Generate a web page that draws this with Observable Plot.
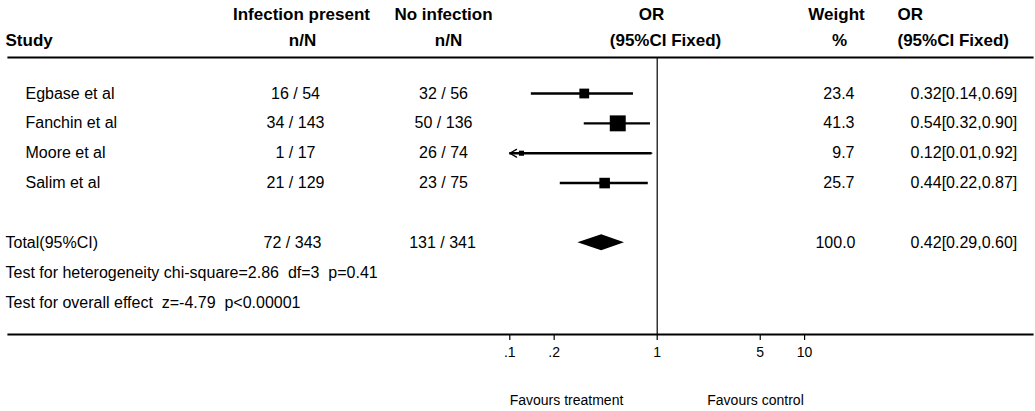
<!DOCTYPE html>
<html>
<head>
<meta charset="utf-8">
<script src="https://cdn.jsdelivr.net/npm/d3@7"></script>
<script src="https://cdn.jsdelivr.net/npm/@observablehq/plot@0.6"></script>
<style>
  html, body { margin: 0; padding: 0; background: #fff; }
  svg text { white-space: pre; }
</style>
</head>
<body>
<div id="chart"></div>
<script>
// ---- data ----
const studies = ["Egbase et al", "Fanchin et al", "Moore et al", "Salim et al"];
const infectionPresent = ["16 / 54", "34 / 143", "1 / 17", "21 / 129"];
const noInfection = ["32 / 56", "50 / 136", "26 / 74", "23 / 75"];
const orEstimate = [0.32, 0.54, 0.12, 0.44];
const orLower = [0.14, 0.32, 0.01, 0.22];
const orUpper = [0.69, 0.90, 0.92, 0.87];
const weightPct = [23.4, 41.3, 9.7, 25.7];
const orLabels = ["0.32[0.14,0.69]", "0.54[0.32,0.90]", "0.12[0.01,0.92]", "0.44[0.22,0.87]"];

const totalLabel = "Total(95%CI)";
const totalInfection = "72 / 343";
const totalNoInfection = "131 / 341";
const totalWeight = "100.0";
const totalEstimate = 0.42, totalLower = 0.29, totalUpper = 0.60;
const totalORLabel = "0.42[0.29,0.60]";
const heterogeneityText = "Test for heterogeneity chi-square=2.86  df=3  p=0.41";
const overallText = "Test for overall effect  z=-4.79  p<0.00001";

const headerRow1 = ["Infection present", "No infection", "OR", "Weight", "OR"];
const headerRow2 = ["Study", "n/N", "n/N", "(95%CI Fixed)", "%", "(95%CI Fixed)"];
const tickValues = [0.1, 0.2, 1, 5, 10];
const tickLabels = [".1", ".2", "1", "5", "10"];
const favourLabels = ["Favours treatment", "Favours control"];

// ---- derived tables ----
const rows = studies.map((s, i) => ({
  row: i, study: s, inf: infectionPresent[i], noinf: noInfection[i],
  est: orEstimate[i], lo: orLower[i], hi: orUpper[i], w: weightPct[i], lab: orLabels[i]
}));
const totalRow = 5, hetRow = 6, overallRow = 7;
const diamond = [
  {y: totalRow - 0.27, x1: totalEstimate, x2: totalEstimate},
  {y: totalRow, x1: totalLower, x2: totalUpper},
  {y: totalRow + 0.27, x1: totalEstimate, x2: totalEstimate}
];
const xMin = tickValues[0], xMax = tickValues[tickValues.length - 1];
const truncated = rows.filter(d => d.lo < xMin);
const ticks = tickValues.map((v, i) => ({v, label: tickLabels[i]}));

const font = "'Liberation Sans', Arial, sans-serif";
const body = {fontSize: 16, lineAnchor: "middle"};
const head = {fontSize: 17, fontWeight: "bold", lineAnchor: "middle"};

const T = (data, opts) => Plot.text(data, {text: d => d, ...opts});

const chart = Plot.plot({
  width: 1035,
  height: 411,
  marginTop: 57,
  marginBottom: 77,
  marginLeft: 0,
  marginRight: 0,
  style: {fontFamily: font, color: "#000", background: "#fff"},
  x: {type: "log", domain: [xMin, xMax], range: [509.3, 804.1], clamp: true, axis: null},
  y: {type: "linear", domain: [0, 7], range: [93, 302], axis: null},
  r: {type: "linear", domain: [-5, 41.3], range: [0, 9]},
  marks: [
    // header & axis rules
    Plot.frame({anchor: "top", strokeWidth: 2.2, insetLeft: 8, insetRight: 3}),
    Plot.frame({anchor: "bottom", strokeWidth: 2.2, insetLeft: 8, insetRight: 3}),
    Plot.ruleX([1], {strokeWidth: 1.2}),
    // axis ticks + labels
    Plot.axisX(tickValues, {
      anchor: "bottom", tickSize: 6, strokeWidth: 1.2,
      tickFormat: () => "", label: null
    }),
    Plot.text(ticks, {x: "v", text: "label", frameAnchor: "bottom", dy: 18, lineAnchor: "middle", fontSize: 14}),
    // CIs
    Plot.ruleY(rows, {y: "row", x1: "lo", x2: "hi", strokeWidth: 2.4}),
    Plot.arrow(truncated, {x1: "hi", x2: "lo", y1: "row", y2: "row", headLength: 9, strokeWidth: 1.3}),
    Plot.dot(rows, {x: "est", y: "row", r: "w", symbol: "square", fill: "black", stroke: "none"}),
    Plot.areaX(diamond, {y: "y", x1: "x1", x2: "x2", fill: "black"}),
    // headers
    T([headerRow1[0]], {frameAnchor: "top-left", dx: 301, dy: -43, textAnchor: "middle", ...head}),
    T([headerRow1[1]], {frameAnchor: "top-left", dx: 443, dy: -43, textAnchor: "middle", ...head}),
    T([headerRow1[2]], {frameAnchor: "top-left", dx: 651, dy: -43, textAnchor: "middle", ...head}),
    T([headerRow1[3]], {frameAnchor: "top-left", dx: 836, dy: -43, textAnchor: "middle", ...head}),
    T([headerRow1[4]], {frameAnchor: "top-left", dx: 897, dy: -43, textAnchor: "start", ...head}),
    T([headerRow2[0]], {frameAnchor: "top-left", dx: 5, dy: -17, textAnchor: "start", ...head}),
    T([headerRow2[1]], {frameAnchor: "top-left", dx: 302, dy: -17, textAnchor: "middle", ...head}),
    T([headerRow2[2]], {frameAnchor: "top-left", dx: 448, dy: -17, textAnchor: "middle", ...head}),
    T([headerRow2[3]], {frameAnchor: "top-left", dx: 665, dy: -17, textAnchor: "middle", ...head}),
    T([headerRow2[4]], {frameAnchor: "top-left", dx: 839, dy: -17, textAnchor: "middle", ...head}),
    T([headerRow2[5]], {frameAnchor: "top-left", dx: 897, dy: -17, textAnchor: "start", ...head}),
    // study rows
    Plot.text(rows, {y: "row", text: "study", frameAnchor: "left", dx: 25, textAnchor: "start", ...body}),
    Plot.text(rows, {y: "row", text: "inf", frameAnchor: "left", dx: 295, textAnchor: "middle", ...body}),
    Plot.text(rows, {y: "row", text: "noinf", frameAnchor: "left", dx: 443, textAnchor: "middle", ...body}),
    Plot.text(rows, {y: "row", text: d => d.w.toFixed(1), frameAnchor: "left", dx: 854, textAnchor: "end", ...body}),
    Plot.text(rows, {y: "row", text: "lab", frameAnchor: "left", dx: 910, textAnchor: "start", ...body}),
    // totals
    Plot.text([totalLabel], {y: totalRow, text: d => d, frameAnchor: "left", dx: 5, textAnchor: "start", ...body}),
    Plot.text([totalInfection], {y: totalRow, text: d => d, frameAnchor: "left", dx: 292, textAnchor: "middle", ...body}),
    Plot.text([totalNoInfection], {y: totalRow, text: d => d, frameAnchor: "left", dx: 442, textAnchor: "middle", ...body}),
    Plot.text([totalWeight], {y: totalRow, text: d => d, frameAnchor: "left", dx: 855, textAnchor: "end", ...body}),
    Plot.text([totalORLabel], {y: totalRow, text: d => d, frameAnchor: "left", dx: 910, textAnchor: "start", ...body}),
    Plot.text([heterogeneityText], {y: hetRow, text: d => d, frameAnchor: "left", dx: 5, textAnchor: "start", ...body}),
    Plot.text([overallText], {y: overallRow, text: d => d, frameAnchor: "left", dx: 5, textAnchor: "start", ...body}),
    // favours
    T([favourLabels[0]], {frameAnchor: "bottom-left", dx: 566, dy: 66, textAnchor: "middle", lineAnchor: "middle", fontSize: 14}),
    T([favourLabels[1]], {frameAnchor: "bottom-left", dx: 755, dy: 66, textAnchor: "middle", lineAnchor: "middle", fontSize: 14})
  ]
});
document.getElementById("chart").appendChild(chart);
</script>
</body>
</html>
